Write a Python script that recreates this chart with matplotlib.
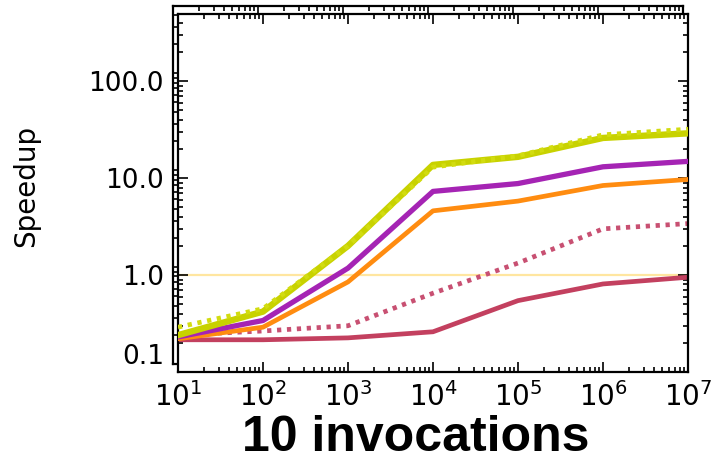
import matplotlib
matplotlib.use("Agg")
import matplotlib.pyplot as plt
import matplotlib.transforms as mtransforms
from matplotlib.ticker import LogLocator, NullFormatter

# problem sizes (x) and measured speedups per variant
sizes = [1e1, 1e2, 1e3, 1e4, 1e5, 1e6, 1e7]
yellow_dotted = [0.29, 0.45, 2.0, 13.0, 17.0, 28.0, 32.0]
yellow_solid = [0.24, 0.42, 2.0, 13.7, 16.6, 26.0, 29.0]
purple = [0.23, 0.34, 1.18, 7.3, 8.8, 13.1, 14.9]
orange = [0.22, 0.29, 0.85, 4.6, 5.8, 8.4, 9.7]
pink_dotted = [0.24, 0.265, 0.30, 0.65, 1.33, 3.0, 3.4]
red_solid = [0.215, 0.215, 0.225, 0.26, 0.545, 0.81, 0.95]
baseline = 1.0

xticks = [1e1, 1e2, 1e3, 1e4, 1e5, 1e6, 1e7]
xticklabels = [r"$10^{%d}$" % e for e in range(1, 8)]
yticks = [0.1, 1.0, 10.0, 100.0]
yticklabels = ["0.1", "1.0", "10.0", "100.0"]

W, H = 717, 462
fig = plt.figure(figsize=(W / 100, H / 100), dpi=100)
fig.patch.set_facecolor("white")


def style_axes(ax):
    ax.set_xscale("log")
    ax.set_yscale("log")
    ax.set_xlim(1e1, 1e7)
    ax.set_ylim(0.1, 494)
    ax.xaxis.set_major_locator(LogLocator(base=10, numticks=20))
    ax.xaxis.set_minor_locator(LogLocator(base=10, subs=range(2, 10), numticks=20))
    ax.yaxis.set_minor_locator(LogLocator(base=10, subs=range(2, 10), numticks=20))
    ax.tick_params(which="both", direction="in", top=True, right=True, width=1.2)
    ax.tick_params(which="major", length=7)
    ax.tick_params(which="minor", length=3.5)
    for s in ax.spines.values():
        s.set_linewidth(1.6)


# ghost frame of the panel behind, slightly offset
back = fig.add_axes([173 / W, 1 - 364 / H, 510 / W, 358 / H], zorder=0)
style_axes(back)
back.set_xticks(xticks)
back.set_yticks(yticks)
back.xaxis.set_major_formatter(NullFormatter())
back.yaxis.set_major_formatter(NullFormatter())
back.xaxis.set_minor_formatter(NullFormatter())
back.yaxis.set_minor_formatter(NullFormatter())

ax = fig.add_axes([178 / W, 1 - 372 / H, 510 / W, 358 / H], zorder=1)
ax.set_facecolor("white")
style_axes(ax)

ax.axhline(baseline, color="#ffe6a0", lw=1.6, zorder=1)
ax.plot(sizes, red_solid, color="#c3405f", lw=3.4, zorder=2)
ax.plot(sizes, pink_dotted, color="#c85072", lw=3.4, ls=(0, (0.9, 1.2)), zorder=2)
ax.plot(sizes, orange, color="#ff8c10", lw=3.4, zorder=3)
ax.plot(sizes, purple, color="#a524b4", lw=3.8, zorder=4)
ax.plot(sizes, yellow_solid, color="#c8d200", lw=4.6, zorder=5)
ax.plot(sizes, yellow_dotted, color="#d2dc10", lw=3.4, ls=(0, (0.9, 1.2)), zorder=5)

ax.set_xticks(xticks)
ax.set_xticklabels(xticklabels, fontsize=20, family="DejaVu Sans")
ax.set_yticks(yticks)
ax.set_yticklabels(yticklabels, fontsize=19, family="DejaVu Sans")
ax.yaxis.set_minor_formatter(NullFormatter())
ax.xaxis.set_minor_formatter(NullFormatter())
ax.tick_params(axis="x", which="major", pad=7)
ax.tick_params(axis="y", which="major", pad=10)

# lowest label sits a bit higher than its tick, as in the original
lab = ax.get_yticklabels()[0]
lab.set_transform(lab.get_transform() + mtransforms.ScaledTranslation(0, 18 / 100, fig.dpi_scale_trans))

ax.set_ylabel("Speedup", fontsize=20, family="DejaVu Sans")
ax.yaxis.set_label_coords(-0.27, 0.52)

fig.text(416 / W, 1 - 451 / H, "10 invocations", fontsize=36, fontweight="bold",
         family="Liberation Sans", ha="center", va="baseline")

fig.savefig("out.png", dpi=100, facecolor="white")
